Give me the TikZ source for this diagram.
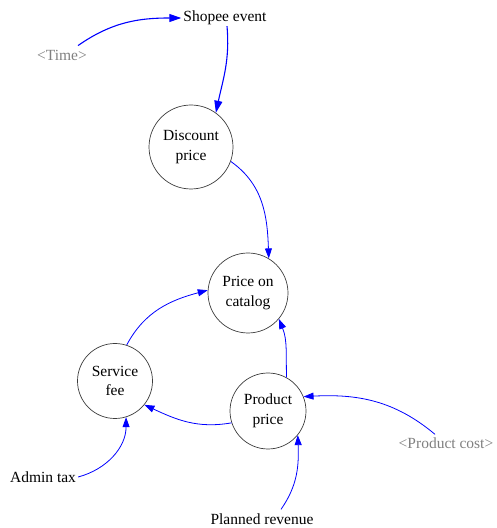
\documentclass[tikz,border=0pt]{standalone}
\usepackage{fontspec}
\setmainfont{Liberation Serif}
\usetikzlibrary{arrows.meta}
\definecolor{linkblue}{RGB}{0,0,255}
\definecolor{shadowgray}{RGB}{128,128,128}
\definecolor{ringgray}{RGB}{60,60,60}
\begin{document}
\begin{tikzpicture}[x=1pt,y=1pt,
  every node/.style={font=\fontsize{15.5}{19.5}\selectfont},
  varnode/.style={circle,draw=ringgray,line width=0.7pt,align=center,inner sep=0pt},
  auxtext/.style={inner sep=2pt},
  shadowtext/.style={inner sep=2pt,text=shadowgray},
  link/.style={draw=linkblue,line width=0.8pt,-{Triangle[length=10pt,width=7pt]}},
  strong link/.style={link,line width=1.1pt,-{Triangle[length=12pt,width=8pt]}}
]
\useasboundingbox (0,0) rectangle (496,528);

% variables
\node[auxtext] (shopee) at (225,510) {Shopee event};
\node[shadowtext] (time) at (62,473) {<Time>};
\node[varnode,minimum size=84pt] (discount) at (191,381) {Discount\\price};
\node[varnode,minimum size=80pt] (catalog) at (248,235) {Price on\\catalog};
\node[varnode,minimum size=75pt] (service) at (115,147) {Service\\fee};
\node[varnode,minimum size=76pt] (product) at (268,117) {Product\\price};
\node[auxtext] (admin) at (43,51) {Admin tax};
\node[auxtext] (revenue) at (262,9) {Planned revenue};
\node[shadowtext] (cost) at (446,85) {<Product cost>};

% causal links
\draw[strong link] ([xshift=16pt,yshift=2pt]time.north) to[out=35,in=180] (shopee.west);
\draw[strong link] ([xshift=2pt,yshift=1pt]shopee.south) to[out=-85,in=78] (discount.54);
\draw[link] (discount.-20) to[out=-35,in=92] (catalog.59);
\draw[link] (service.72) to[out=62,in=195] (catalog.176);
\draw[link] (product.61) to[out=92,in=-68] (catalog.-40);
\draw[link] (product.198) to[out=190,in=-25] (service.-39);
\draw[link] ([xshift=-11pt,yshift=1pt]cost.north) to[out=140,in=3] (product.22);
\draw[link] (admin.east) to[out=15,in=-90] (service.-73);
\draw[link] ([xshift=19pt,yshift=2pt]revenue.north) to[out=55,in=-88] (product.-39);
\end{tikzpicture}
\end{document}
